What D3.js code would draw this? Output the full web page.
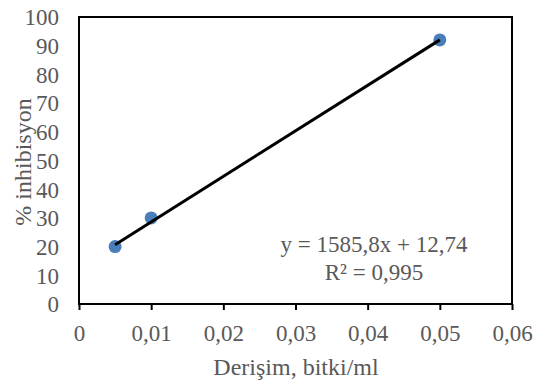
<!DOCTYPE html>
<html>
<head>
<meta charset="utf-8">
<script src="https://cdn.jsdelivr.net/npm/d3@7"></script>
<style>
  body { margin: 0; background: #fff; }
  text { font-family: "Liberation Serif", "Times New Roman", serif; fill: #595959; }
</style>
</head>
<body>
<div id="chart"></div>
<script>
// veri
const derisim = [0.005, 0.01, 0.05];
const inhibisyon = [20, 30, 92];
const xTicks = [0, 0.01, 0.02, 0.03, 0.04, 0.05, 0.06];
const yTicks = [0, 10, 20, 30, 40, 50, 60, 70, 80, 90, 100];
const egim = 1585.8, kesisim = 12.74;
const denklem = ["y = 1585,8x + 12,74", "R² = 0,995"];

const largura = 538, altura = 383;
const m = { top: 17, right: 26, bottom: 79, left: 79 };

const svg = d3.select('#chart')
  .append('svg')
  .attr('width', largura)
  .attr('height', altura);

const x = d3.scaleLinear().domain([0, 0.06]).range([m.left, largura - m.right]);
const y = d3.scaleLinear().domain([0, 100]).range([altura - m.bottom, m.top]);
const fmt = d => String(d).replace('.', ',');

// eksenler
svg.append('g')
  .attr('transform', `translate(0,${y(0)})`)
  .call(d3.axisBottom(x).tickValues(xTicks).tickFormat(fmt).tickSize(6))
  .attr('font-family', null)
  .call(g => g.select('.domain').remove())
  .call(g => g.selectAll('line').attr('stroke', '#000').attr('stroke-width', 2))
  .call(g => g.selectAll('text').attr('font-size', 23).attr('y', 37).attr('dy', 0));

svg.append('g')
  .attr('transform', `translate(${x(0)},0)`)
  .call(d3.axisLeft(y).tickValues(yTicks).tickSize(0).tickPadding(20))
  .attr('font-family', null)
  .call(g => g.select('.domain').remove())
  .call(g => g.selectAll('text').attr('font-size', 23).attr('dy', '0.34em'));

// çerçeve
svg.append('rect')
  .attr('x', x(0)).attr('y', y(100))
  .attr('width', x(0.06) - x(0)).attr('height', y(0) - y(100))
  .attr('fill', 'none').attr('stroke', '#000').attr('stroke-width', 2);

// noktalar
svg.append('g')
  .selectAll('circle')
  .data(derisim)
  .enter()
  .append('circle')
  .attr('cx', d => x(d))
  .attr('cy', (d, i) => y(inhibisyon[i]))
  .attr('r', 6.5)
  .attr('fill', '#4a7ebb');

// eğilim çizgisi
const xs = d3.extent(derisim);
svg.append('line')
  .attr('x1', x(xs[0])).attr('y1', y(egim * xs[0] + kesisim))
  .attr('x2', x(xs[1])).attr('y2', y(egim * xs[1] + kesisim))
  .attr('stroke', '#000').attr('stroke-width', 3);

// denklem
svg.append('g')
  .selectAll('text')
  .data(denklem)
  .enter()
  .append('text')
  .attr('x', 374)
  .attr('y', (d, i) => 252 + i * 28)
  .attr('text-anchor', 'middle')
  .attr('font-size', 23)
  .text(d => d);

// eksen başlıkları
svg.append('text')
  .attr('x', 296).attr('y', 375)
  .attr('text-anchor', 'middle')
  .attr('font-size', 24)
  .text('Derişim, bitki/ml');

svg.append('text')
  .attr('transform', 'translate(31,162) rotate(-90)')
  .attr('text-anchor', 'middle')
  .attr('font-size', 24)
  .text('% inhibisyon');
</script>
</body>
</html>
